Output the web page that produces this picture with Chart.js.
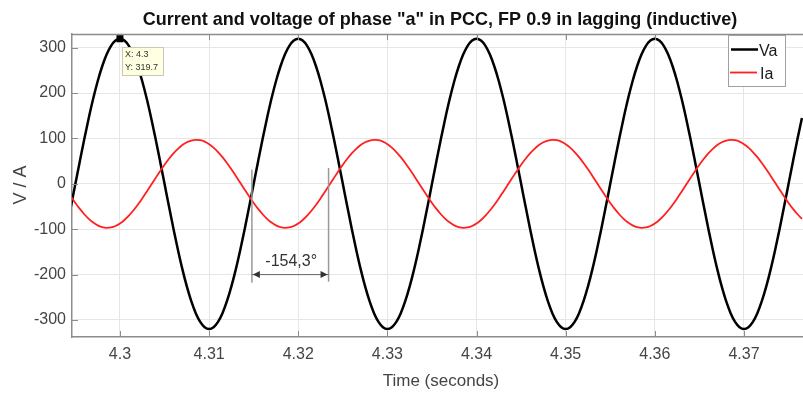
<!DOCTYPE html>
<html><head><meta charset="utf-8">
<script src="https://cdn.jsdelivr.net/npm/chart.js@4/dist/chart.umd.min.js"></script>
<style>html,body{margin:0;padding:0;background:#fff;overflow:hidden}canvas{display:block}</style>
</head><body>
<canvas id="c" width="803" height="394"></canvas>
<script>
// ---- data ----
const times = [
 4.2945, 4.2950, 4.2955, 4.2960, 4.2965, 4.2970, 4.2975, 4.2980, 4.2985, 4.2990,
 4.2995, 4.3000, 4.3005, 4.3010, 4.3015, 4.3020, 4.3025, 4.3030, 4.3035, 4.3040,
 4.3045, 4.3050, 4.3055, 4.3060, 4.3065, 4.3070, 4.3075, 4.3080, 4.3085, 4.3090,
 4.3095, 4.3100, 4.3105, 4.3110, 4.3115, 4.3120, 4.3125, 4.3130, 4.3135, 4.3140,
 4.3145, 4.3150, 4.3155, 4.3160, 4.3165, 4.3170, 4.3175, 4.3180, 4.3185, 4.3190,
 4.3195, 4.3200, 4.3205, 4.3210, 4.3215, 4.3220, 4.3225, 4.3230, 4.3235, 4.3240,
 4.3245, 4.3250, 4.3255, 4.3260, 4.3265, 4.3270, 4.3275, 4.3280, 4.3285, 4.3290,
 4.3295, 4.3300, 4.3305, 4.3310, 4.3315, 4.3320, 4.3325, 4.3330, 4.3335, 4.3340,
 4.3345, 4.3350, 4.3355, 4.3360, 4.3365, 4.3370, 4.3375, 4.3380, 4.3385, 4.3390,
 4.3395, 4.3400, 4.3405, 4.3410, 4.3415, 4.3420, 4.3425, 4.3430, 4.3435, 4.3440,
 4.3445, 4.3450, 4.3455, 4.3460, 4.3465, 4.3470, 4.3475, 4.3480, 4.3485, 4.3490,
 4.3495, 4.3500, 4.3505, 4.3510, 4.3515, 4.3520, 4.3525, 4.3530, 4.3535, 4.3540,
 4.3545, 4.3550, 4.3555, 4.3560, 4.3565, 4.3570, 4.3575, 4.3580, 4.3585, 4.3590,
 4.3595, 4.3600, 4.3605, 4.3610, 4.3615, 4.3620, 4.3625, 4.3630, 4.3635, 4.3640,
 4.3645, 4.3650, 4.3655, 4.3660, 4.3665, 4.3670, 4.3675, 4.3680, 4.3685, 4.3690,
 4.3695, 4.3700, 4.3705, 4.3710, 4.3715, 4.3720, 4.3725, 4.3730, 4.3735, 4.3740,
 4.3745, 4.3750, 4.3755, 4.3760, 4.3765
];
const voltageVa = [
 -50.0, 0.0, 50.0, 98.8, 145.1, 187.9, 226.1, 258.6, 284.9, 304.1,
 315.8, 319.7, 315.8, 304.1, 284.9, 258.6, 226.1, 187.9, 145.1, 98.8,
 50.0, 0.0, -50.0, -98.8, -145.1, -187.9, -226.1, -258.6, -284.9, -304.1,
 -315.8, -319.7, -315.8, -304.1, -284.9, -258.6, -226.1, -187.9, -145.1, -98.8,
 -50.0, 0.0, 50.0, 98.8, 145.1, 187.9, 226.1, 258.6, 284.9, 304.1,
 315.8, 319.7, 315.8, 304.1, 284.9, 258.6, 226.1, 187.9, 145.1, 98.8,
 50.0, 0.0, -50.0, -98.8, -145.1, -187.9, -226.1, -258.6, -284.9, -304.1,
 -315.8, -319.7, -315.8, -304.1, -284.9, -258.6, -226.1, -187.9, -145.1, -98.8,
 -50.0, 0.0, 50.0, 98.8, 145.1, 187.9, 226.1, 258.6, 284.9, 304.1,
 315.8, 319.7, 315.8, 304.1, 284.9, 258.6, 226.1, 187.9, 145.1, 98.8,
 50.0, 0.0, -50.0, -98.8, -145.1, -187.9, -226.1, -258.6, -284.9, -304.1,
 -315.8, -319.7, -315.8, -304.1, -284.9, -258.6, -226.1, -187.9, -145.1, -98.8,
 -50.0, 0.0, 50.0, 98.8, 145.1, 187.9, 226.1, 258.6, 284.9, 304.1,
 315.8, 319.7, 315.8, 304.1, 284.9, 258.6, 226.1, 187.9, 145.1, 98.8,
 50.0, 0.0, -50.0, -98.8, -145.1, -187.9, -226.1, -258.6, -284.9, -304.1,
 -315.8, -319.7, -315.8, -304.1, -284.9, -258.6, -226.1, -187.9, -145.1, -98.8,
 -50.0, 0.0, 50.0, 98.8, 145.1
];
const currentIa = [
 -27.9, -42.1, -55.2, -67.0, -77.1, -85.4, -91.5, -95.4, -97.0, -96.1,
 -92.9, -87.4, -79.7, -70.1, -58.8, -46.0, -32.1, -17.3, -2.2, 13.0,
 27.9, 42.1, 55.2, 67.0, 77.1, 85.4, 91.5, 95.4, 97.0, 96.1,
 92.9, 87.4, 79.7, 70.1, 58.8, 46.0, 32.1, 17.3, 2.2, -13.0,
 -27.9, -42.1, -55.2, -67.0, -77.1, -85.4, -91.5, -95.4, -97.0, -96.1,
 -92.9, -87.4, -79.7, -70.1, -58.8, -46.0, -32.1, -17.3, -2.2, 13.0,
 27.9, 42.1, 55.2, 67.0, 77.1, 85.4, 91.5, 95.4, 97.0, 96.1,
 92.9, 87.4, 79.7, 70.1, 58.8, 46.0, 32.1, 17.3, 2.2, -13.0,
 -27.9, -42.1, -55.2, -67.0, -77.1, -85.4, -91.5, -95.4, -97.0, -96.1,
 -92.9, -87.4, -79.7, -70.1, -58.8, -46.0, -32.1, -17.3, -2.2, 13.0,
 27.9, 42.1, 55.2, 67.0, 77.1, 85.4, 91.5, 95.4, 97.0, 96.1,
 92.9, 87.4, 79.7, 70.1, 58.8, 46.0, 32.1, 17.3, 2.2, -13.0,
 -27.9, -42.1, -55.2, -67.0, -77.1, -85.4, -91.5, -95.4, -97.0, -96.1,
 -92.9, -87.4, -79.7, -70.1, -58.8, -46.0, -32.1, -17.3, -2.2, 13.0,
 27.9, 42.1, 55.2, 67.0, 77.1, 85.4, 91.5, 95.4, 97.0, 96.1,
 92.9, 87.4, 79.7, 70.1, 58.8, 46.0, 32.1, 17.3, 2.2, -13.0,
 -27.9, -42.1, -55.2, -67.0, -77.1
];
const seriesNames = ['Va', 'Ia'];
const xTicks = [4.30, 4.31, 4.32, 4.33, 4.34, 4.35, 4.36, 4.37];
const xTickLabels = ['4.3', '4.31', '4.32', '4.33', '4.34', '4.35', '4.36', '4.37'];
const yTicks = [-300, -200, -100, 0, 100, 200, 300];
const yTickLabels = ['-300', '-200', '-100', '0', '100', '200', '300'];
const titleText = 'Current and voltage of phase "a" in PCC, FP 0.9 in lagging (inductive)';
const xTitleText = 'Time (seconds)';
const yTitleText = 'V / A';
const dataTipPoint = [4.3, 319.7];
const dataTipLines = ['X: 4.3', 'Y: 319.7'];
const phaseText = '-154,3°';
const phaseTimes = [4.3148, 4.3234];

// ---- chart ----
const FONT = '"Liberation Sans", Arial, Helvetica, sans-serif';
const TICK_COLOR = '#454545';
const AXIS_COLOR = '#8c8c8c';

const overlay = {
  id: 'overlay',
  afterDraw(chart) {
    const ctx = chart.ctx, a = chart.chartArea, x = chart.scales.x, y = chart.scales.y;
    ctx.save();
    // top box line
    ctx.strokeStyle = AXIS_COLOR; ctx.lineWidth = 1.5;
    ctx.beginPath(); ctx.moveTo(a.left, a.top + 0.5); ctx.lineTo(a.right, a.top + 0.5); ctx.stroke();
    // inward tick marks
    ctx.lineWidth = 1; ctx.beginPath();
    xTicks.forEach(v => {
      const px = Math.round(x.getPixelForValue(v)) + 0.5;
      ctx.moveTo(px, a.bottom); ctx.lineTo(px, a.bottom - 6);
      ctx.moveTo(px, a.top); ctx.lineTo(px, a.top + 6);
    });
    yTicks.forEach(v => {
      const py = Math.round(y.getPixelForValue(v)) + 0.5;
      ctx.moveTo(a.left, py); ctx.lineTo(a.left + 6, py);
    });
    ctx.stroke();

    // title
    ctx.fillStyle = '#111';
    ctx.font = 'bold 16px ' + FONT;
    const w16 = ctx.measureText(titleText).width;
    const ts = 16 * 595 / w16;
    ctx.font = 'bold ' + ts.toFixed(2) + 'px ' + FONT;
    ctx.textAlign = 'center'; ctx.textBaseline = 'alphabetic';
    ctx.fillText(titleText, 440, 25);

    // axis titles
    ctx.fillStyle = TICK_COLOR;
    ctx.font = '17px ' + FONT;
    ctx.fillText(xTitleText, 441, 386);
    ctx.save();
    ctx.translate(26, 185); ctx.rotate(-Math.PI / 2);
    ctx.font = '18px ' + FONT;
    ctx.fillText(yTitleText, 0, 0);
    ctx.restore();

    // phase annotation
    const xl = x.getPixelForValue(phaseTimes[0]);
    const xr = x.getPixelForValue(phaseTimes[1]);
    ctx.strokeStyle = '#999'; ctx.lineWidth = 1.5;
    ctx.beginPath();
    ctx.moveTo(xl, y.getPixelForValue(31)); ctx.lineTo(xl, y.getPixelForValue(-218));
    ctx.moveTo(xr, y.getPixelForValue(35)); ctx.lineTo(xr, y.getPixelForValue(-216));
    ctx.stroke();
    const ya = y.getPixelForValue(-200);
    ctx.strokeStyle = '#666'; ctx.lineWidth = 1;
    ctx.beginPath(); ctx.moveTo(xl, ya); ctx.lineTo(xr, ya); ctx.stroke();
    ctx.fillStyle = '#333';
    ctx.beginPath(); ctx.moveTo(xl + 1, ya); ctx.lineTo(xl + 8, ya - 3.5); ctx.lineTo(xl + 8, ya + 3.5); ctx.closePath(); ctx.fill();
    ctx.beginPath(); ctx.moveTo(xr - 1, ya); ctx.lineTo(xr - 8, ya - 3.5); ctx.lineTo(xr - 8, ya + 3.5); ctx.closePath(); ctx.fill();
    ctx.font = '16px ' + FONT; ctx.fillStyle = '#333'; ctx.textAlign = 'center';
    ctx.fillText(phaseText, (xl + xr) / 2 + 1, y.getPixelForValue(-181));

    // data tip
    const dx = x.getPixelForValue(dataTipPoint[0]), dy = y.getPixelForValue(dataTipPoint[1]);
    ctx.fillStyle = '#ffffe1'; ctx.strokeStyle = '#c8c8b4'; ctx.lineWidth = 1;
    ctx.fillRect(122, 47, 41, 28); ctx.strokeRect(122.5, 47.5, 41, 28);
    ctx.fillStyle = '#000';
    ctx.fillRect(dx - 3.5, dy - 3.5, 7, 7);
    ctx.fillStyle = '#333'; ctx.font = '9px ' + FONT; ctx.textAlign = 'left';
    ctx.fillText(dataTipLines[0], 125, 57);
    ctx.fillText(dataTipLines[1], 125, 70);

    // legend
    ctx.fillStyle = '#fff'; ctx.strokeStyle = '#a0a0a0'; ctx.lineWidth = 1;
    ctx.fillRect(728, 35, 57, 51); ctx.strokeRect(728.5, 35.5, 57, 51);
    ctx.lineWidth = 2.5; ctx.strokeStyle = '#000';
    ctx.beginPath(); ctx.moveTo(731, 49.5); ctx.lineTo(758, 49.5); ctx.stroke();
    ctx.lineWidth = 1.8; ctx.strokeStyle = '#ff2020';
    ctx.beginPath(); ctx.moveTo(730, 72.5); ctx.lineTo(757, 72.5); ctx.stroke();
    ctx.fillStyle = '#1a1a1a'; ctx.font = '16px ' + FONT; ctx.textAlign = 'left';
    ctx.fillText(seriesNames[0], 759, 56);
    ctx.fillText(seriesNames[1], 760, 79);
    ctx.restore();
  }
};

new Chart(document.getElementById('c'), {
  type: 'line',
  data: {
    datasets: [
      { label: seriesNames[0], data: times.map((t, i) => ({ x: t, y: voltageVa[i] })),
        borderColor: '#000', borderWidth: 2.5, pointRadius: 0, cubicInterpolationMode: 'monotone', order: 1 },
      { label: seriesNames[1], data: times.map((t, i) => ({ x: t, y: currentIa[i] })),
        borderColor: '#ff2020', borderWidth: 1.8, pointRadius: 0, cubicInterpolationMode: 'monotone', order: 0 }
    ]
  },
  options: {
    responsive: false, animation: false, devicePixelRatio: 1,
    layout: { padding: { left: 0, right: 0, top: 34, bottom: 0 } },
    plugins: { legend: { display: false }, title: { display: false }, tooltip: { enabled: false } },
    scales: {
      x: {
        type: 'linear', min: 4.29462, max: 4.37662,
        afterBuildTicks: s => { s.ticks = xTicks.map(v => ({ value: v })); },
        afterFit: s => { s.height = 57; },
        ticks: { autoSkip: false, maxRotation: 0, padding: 8, color: TICK_COLOR, font: { family: FONT, size: 16 },
          callback: v => { const k = xTicks.findIndex(t => Math.abs(t - v) < 1e-9); return k >= 0 ? xTickLabels[k] : ''; } },
        grid: { color: '#e6e6e6', drawTicks: false },
        border: { color: AXIS_COLOR, width: 1.5 }
      },
      y: {
        type: 'linear', min: -337.5, max: 330.2,
        afterBuildTicks: s => { s.ticks = yTicks.map(v => ({ value: v })); },
        afterFit: s => { s.width = 72; },
        ticks: { autoSkip: false, padding: 6, color: TICK_COLOR, font: { family: FONT, size: 16 },
          callback: v => { const k = yTicks.indexOf(v); return k >= 0 ? yTickLabels[k] : ''; } },
        grid: { color: '#e6e6e6', drawTicks: false },
        border: { color: AXIS_COLOR, width: 1.5 }
      }
    }
  },
  plugins: [overlay]
});
</script>
</body></html>
